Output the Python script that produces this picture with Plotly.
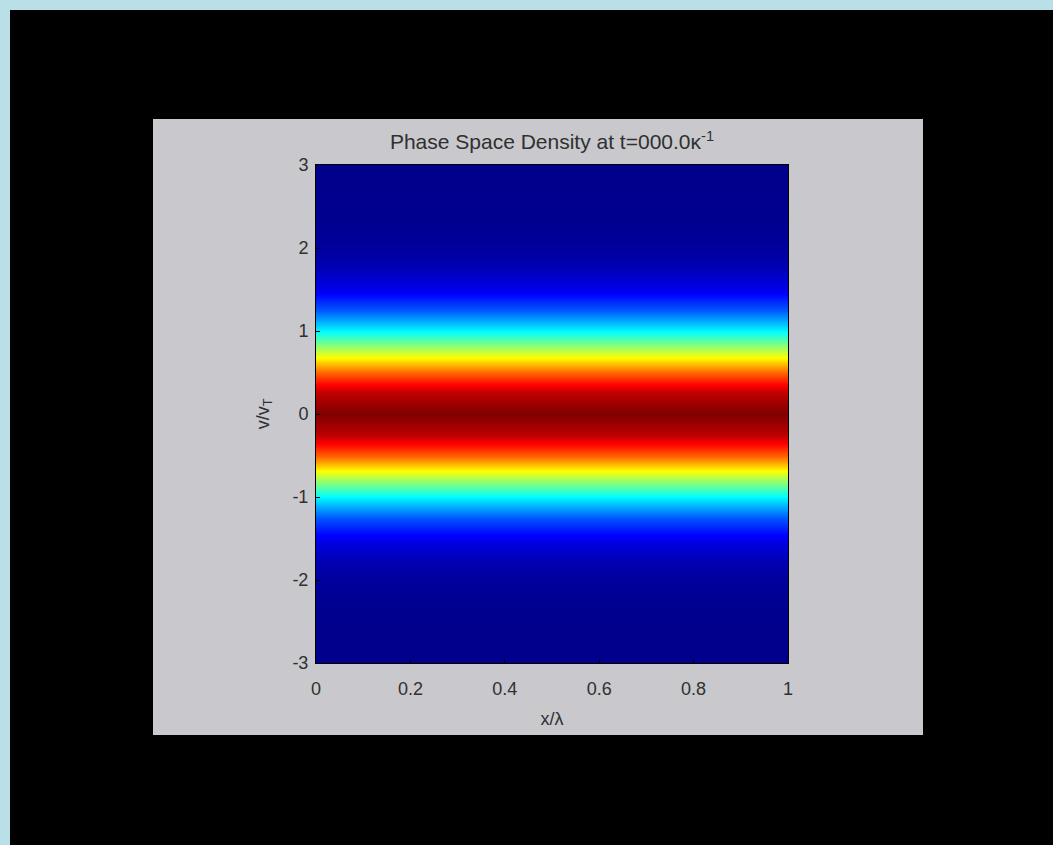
import plotly.graph_objects as go

# Data: density profile along v (uniform along x)
v_values = [-3.0, -2.75, -2.5, -2.25, -2.0, -1.75, -1.5, -1.25, -1.0, -0.75, -0.5, -0.25,
            0.0, 0.25, 0.5, 0.75, 1.0, 1.25, 1.5, 1.75, 2.0, 2.25, 2.5, 2.75, 3.0]
density = [0.0001, 0.0005, 0.002, 0.006, 0.018, 0.047, 0.105, 0.21, 0.37, 0.57, 0.78, 0.94,
           1.0, 0.94, 0.78, 0.57, 0.37, 0.21, 0.105, 0.047, 0.018, 0.006, 0.002, 0.0005, 0.0001]
x_values = [0.0, 0.25, 0.5, 0.75, 1.0]
x_ticks = [0, 0.2, 0.4, 0.6, 0.8, 1]
x_ticktext = ["0", "0.2", "0.4", "0.6", "0.8", "1"]
y_ticks = [-3, -2, -1, 0, 1, 2, 3]
y_ticktext = ["-3", "-2", "-1", "0", "1", "2", "3"]

z = [[d for _ in x_values] for d in density]

jet = [[0.0, "rgb(0,0,140)"], [0.125, "rgb(0,0,255)"], [0.375, "rgb(0,255,255)"],
       [0.625, "rgb(255,255,0)"], [0.875, "rgb(255,0,0)"], [1.0, "rgb(128,0,0)"]]

W, H = 1053, 845
L, R, T, B = 316, 788, 165, 663  # plot area pixels
pw, ph = R - L, B - T

def px(xp):
    return (xp - L) / pw

def py(yp):
    return (B - yp) / ph

fig = go.Figure(go.Heatmap(x=x_values, y=v_values, z=z, colorscale=jet, zmin=0, zmax=1,
                           zsmooth="best", showscale=False, hoverinfo="skip"))

shapes = [
    dict(type="rect", xref="paper", yref="paper", x0=px(0), x1=px(W), y0=py(H), y1=py(0),
         fillcolor="rgb(185,224,230)", line=dict(width=0), layer="below"),
    dict(type="rect", xref="paper", yref="paper", x0=px(10), x1=px(W), y0=py(H), y1=py(10),
         fillcolor="black", line=dict(width=0), layer="below"),
    dict(type="rect", xref="paper", yref="paper", x0=px(153), x1=px(923), y0=py(735), y1=py(119),
         fillcolor="rgb(200,200,205)", line=dict(width=0), layer="below"),
]

txt = "#303030"
fig.update_layout(
    width=W, height=H,
    margin=dict(l=L, r=W - R, t=T, b=H - B, pad=0),
    paper_bgcolor="black",
    plot_bgcolor="rgb(0,0,140)",
    shapes=shapes,
    font=dict(family="Liberation Sans, Arial, sans-serif", color=txt, size=18),
    title=dict(text="Phase Space Density at t=000.0\u03ba<sup>-1</sup>", x=0.5, xref="paper",
               xanchor="center", y=1 - 142 / H, yanchor="middle",
               font=dict(size=21, color=txt)),
    xaxis=dict(range=[0, 1], tickvals=x_ticks, ticktext=x_ticktext, ticks="inside", ticklen=4,
               tickcolor="black", showline=True, linecolor="black", mirror=True, showgrid=False,
               zeroline=False, ticklabelstandoff=9,
               title=dict(text="x/\u03bb", standoff=14, font=dict(size=18, color=txt)),
               tickfont=dict(size=18, color=txt)),
    yaxis=dict(range=[-3, 3], tickvals=y_ticks, ticktext=y_ticktext, ticks="inside", ticklen=4,
               tickcolor="black", showline=True, linecolor="black", mirror=True, showgrid=False,
               zeroline=False, ticklabelstandoff=3,
               title=dict(text="v/v<sub>T</sub>", standoff=18, font=dict(size=18, color=txt)),
               tickfont=dict(size=18, color=txt)),
)

fig.write_html("out.html")
